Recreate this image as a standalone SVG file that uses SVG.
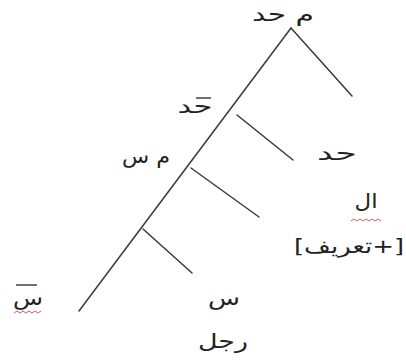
<svg xmlns="http://www.w3.org/2000/svg" width="406" height="361" viewBox="0 0 406 361">
<style>
.ln{stroke:#3a3a3a;stroke-width:1.5;fill:none;stroke-linecap:round}
.bar{stroke:#222;stroke-width:1.3}
.t{font-family:"DejaVu Sans",sans-serif;font-size:20px;fill:#222;text-anchor:middle;direction:rtl;unicode-bidi:embed}
.wv{stroke:#d04848;stroke-width:0.9;fill:none}
</style>
<rect width="406" height="361" fill="#fff"/>
<g id="connectors">
<line class="ln" x1="291" y1="28" x2="79" y2="311"/>
<line class="ln" x1="291" y1="28" x2="352" y2="96"/>
<line class="ln" x1="237" y1="115" x2="293" y2="160"/>
<line class="ln" x1="191" y1="168" x2="259" y2="217"/>
<line class="ln" x1="143" y1="229" x2="192" y2="273"/>
</g>
<g id="n-mhad"><text class="t" x="283" y="21" textLength="62" lengthAdjust="spacingAndGlyphs">م حد</text></g>
<g id="n-hadbar"><line class="bar" x1="196" y1="98" x2="211" y2="98"/><text class="t" x="195" y="113" textLength="35" lengthAdjust="spacingAndGlyphs">حد</text></g>
<g id="n-had"><text class="t" x="337" y="160" textLength="40" lengthAdjust="spacingAndGlyphs">حد</text></g>
<g id="n-ms"><text class="t" x="146" y="163" textLength="48" lengthAdjust="spacingAndGlyphs">م س</text></g>
<g id="n-al"><text class="t" x="366" y="208" textLength="23" lengthAdjust="spacingAndGlyphs">ال</text><path class="wv" d="M351 221 l3 -2 l3 2 l3 -2 l3 2 l3 -2 l3 2 l3 -2 l3 2 l3 -2 l3 2"/></g>
<g id="n-tarif"><text class="t" x="349" y="253" textLength="110" lengthAdjust="spacingAndGlyphs">[+تعريف]</text></g>
<g id="n-sbar"><line class="bar" x1="16" y1="285" x2="37" y2="285"/><text class="t" x="28" y="305" textLength="30" lengthAdjust="spacingAndGlyphs">س</text><path class="wv" d="M14 313 l3 -2 l3 2 l3 -2 l3 2 l3 -2 l3 2 l3 -2 l3 2 l3 -2"/></g>
<g id="n-s"><text class="t" x="224" y="305" textLength="32" lengthAdjust="spacingAndGlyphs">س</text></g>
<g id="n-rajul"><text class="t" x="223" y="348" textLength="50" lengthAdjust="spacingAndGlyphs">رجل</text></g>
</svg>
